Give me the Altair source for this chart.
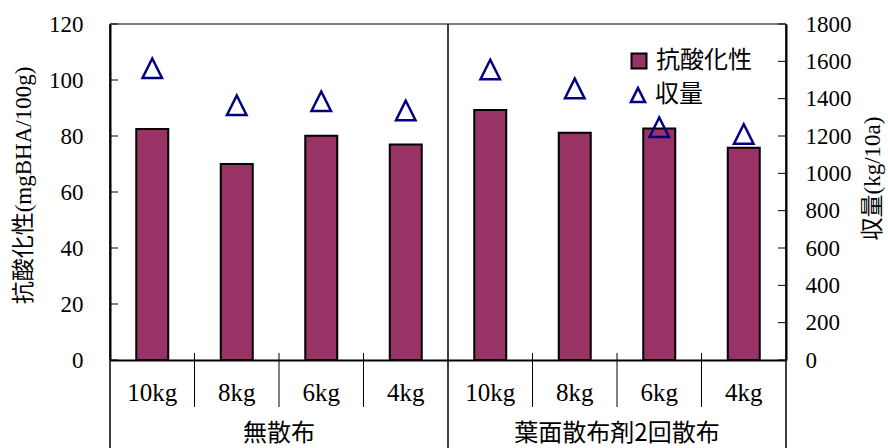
import altair as alt
import pandas as pd

# ---- data ----
groups = ["無散布", "葉面散布剤2回散布"]
rates = ["10kg", "8kg", "6kg", "4kg"]
antioxidant = [82.5, 70.0, 80.1, 77.0, 89.3, 81.2, 82.7, 75.8]   # mgBHA/100g (left axis)
yield_kg = [1563, 1365, 1386, 1337, 1556, 1455, 1247, 1211]      # kg/10a (right axis)
left_ticks = [0, 20, 40, 60, 80, 100, 120]
right_ticks = [0, 200, 400, 600, 800, 1000, 1200, 1400, 1600, 1800]
series_bar = "抗酸化性"
series_pt = "収量"
left_title = "抗酸化性(mgBHA/100g)"
right_title = "収量(kg/10a)"

SERIF = "Liberation Serif, Noto Sans CJK JP"
NUM = "Liberation Serif"
GOTHIC = "Noto Sans CJK JP"
TRI = "M0,-1L-1,1L1,1Z"

keys = [f"{g}|{r}" for g in groups for r in rates]
df = pd.DataFrame({
    "key": keys,
    "group": [g for g in groups for r in rates],
    "rate": [r for g in groups for r in rates],
    "antiox": antioxidant,
    "yield": yield_kg,
    "s1": series_bar,
    "s2": series_pt,
})
n_per = len(rates)
sub_sep = pd.DataFrame({"key": [keys[g * n_per + i] for g in range(len(groups)) for i in range(1, n_per)]})
grp_sep = pd.DataFrame({"key": [keys[g * n_per] for g in range(len(groups))]})
grp_end = pd.DataFrame({"key": [keys[-1]]})
grp_lab = pd.DataFrame({"key": [keys[g * n_per + n_per // 2] for g in range(len(groups))], "group": groups})
lt = pd.DataFrame({"v": left_ticks})
rt = pd.DataFrame({"v": right_ticks})
top = pd.DataFrame({"v": [left_ticks[-1]]})

W, H = 676, 336
xscale = alt.Scale(domain=keys, paddingInner=0, paddingOuter=0)
lscale = alt.Scale(domain=[0, 120], nice=False, zero=True)
rscale = alt.Scale(domain=[0, 1800], nice=False, zero=True)

xaxis = alt.Axis(labels=False, ticks=False, title=None, grid=False, domain=True,
                 domainColor="black", domainWidth=2, orient="bottom")
left_axis = alt.Axis(orient="left", values=left_ticks, format="d", ticks=False, tickSize=0, grid=False,
                     labelPadding=27, labelFont=NUM, labelFontSize=23, labelColor="black",
                     domainColor="black", domainWidth=2,
                     title=left_title, titleFont=SERIF, titleFontSize=23, titleFontWeight="normal",
                     titleColor="black", titleAngle=270, titleAlign="center", titleBaseline="middle",
                     titleX=-87, titleY=161)
right_axis = alt.Axis(orient="right", values=right_ticks, format="d", ticks=False, tickSize=0, grid=False,
                      labelPadding=19, labelFont=NUM, labelFontSize=23, labelColor="black",
                      domainColor="black", domainWidth=2,
                      title=right_title, titleFont=SERIF, titleFontSize=23, titleFontWeight="normal",
                      titleColor="black", titleAngle=270, titleAlign="center", titleBaseline="middle",
                      titleX=86, titleY=154)


def X(**kw):
    return alt.X("key:N", scale=xscale, axis=xaxis, **kw)


top_rule = alt.Chart(top).mark_rule(color="#808080", strokeWidth=2).encode(
    y=alt.Y("v:Q", scale=lscale, axis=None),
    x=alt.value(0), x2=alt.value(W),
)

bars = alt.Chart(df).mark_bar(width=32, stroke="black", strokeWidth=2).encode(
    x=X(),
    y=alt.Y("antiox:Q", scale=lscale, axis=left_axis),
    fill=alt.Fill("s1:N", scale=alt.Scale(domain=[series_bar], range=["#993366"]),
                  legend=alt.Legend(orient="none", legendX=517, legendY=25, title=None,
                                    symbolType="square", symbolSize=225, symbolStrokeColor="black",
                                    symbolStrokeWidth=2, labelFont=GOTHIC, labelFontSize=24,
                                    labelColor="black", labelOffset=5, padding=0, symbolOffset=0)),
)

lticks = alt.Chart(lt).mark_rule(color="black", strokeWidth=1).encode(
    y=alt.Y("v:Q", scale=lscale, axis=None),
    x=alt.value(0), x2=alt.value(8),
)

sub_rules = alt.Chart(sub_sep).mark_rule(color="black", strokeWidth=1).encode(
    x=X(bandPosition=0),
    y=alt.value(329), y2=alt.value(383),
)
grp_rules = alt.Chart(grp_sep).mark_rule(color="black", strokeWidth=1.5).encode(
    x=X(bandPosition=0),
    y=alt.value(0), y2=alt.value(424),
)
end_rules = alt.Chart(grp_end).mark_rule(color="black", strokeWidth=1.5).encode(
    x=X(bandPosition=1),
    y=alt.value(0), y2=alt.value(424),
)
cat_text = alt.Chart(df).mark_text(font=NUM, fontSize=25, color="black", baseline="middle").encode(
    x=X(),
    y=alt.value(369),
    text="rate:N",
)
grp_text = alt.Chart(grp_lab).mark_text(font=GOTHIC, fontSize=24, color="black", baseline="middle").encode(
    x=X(bandPosition=0),
    y=alt.value(410),
    text="group:N",
)

tri = alt.Chart(df).mark_point(filled=False, size=380, strokeWidth=2.5, color="#000080", opacity=1).encode(
    x=X(),
    y=alt.Y("yield:Q", scale=rscale, axis=right_axis),
    shape=alt.Shape("s2:N", scale=alt.Scale(domain=[series_pt], range=[TRI]),
                    legend=alt.Legend(orient="none", legendX=516, legendY=59, title=None,
                                      symbolSize=200, symbolStrokeColor="#000080",
                                      symbolStrokeWidth=2.5, symbolFillColor="white",
                                      labelFont=GOTHIC, labelFontSize=24, labelColor="black",
                                      labelOffset=5, padding=0, symbolOffset=0)),
)
rticks = alt.Chart(rt).mark_rule(color="black", strokeWidth=1).encode(
    y=alt.Y("v:Q", scale=rscale, axis=None),
    x=alt.value(W - 8), x2=alt.value(W),
)

chart = alt.layer(bars, tri, top_rule, lticks, rticks, sub_rules, grp_rules, end_rules,
                  cat_text, grp_text).resolve_scale(y="independent").properties(
    width=W, height=H,
    autosize=alt.AutoSizeParams(type="none"),
    padding={"left": 110, "top": 24, "right": 888 - 110 - W, "bottom": 448 - 24 - H},
    background="white",
).configure_view(stroke=None)

chart.save("out.html", embed_options={"renderer": "svg", "actions": False})
